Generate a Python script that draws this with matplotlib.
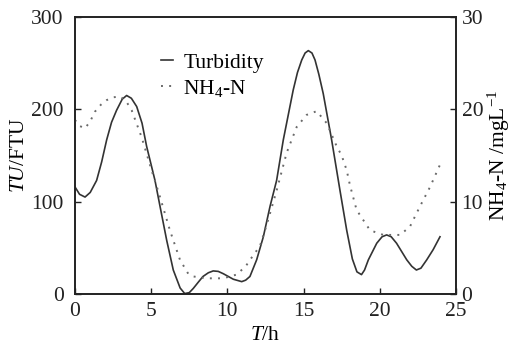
import matplotlib
matplotlib.use("Agg")
import matplotlib.pyplot as plt

# time (h) and turbidity (FTU)
turb_t = [0, 0.3, 0.66, 1.0, 1.42, 1.75, 2.08, 2.4, 2.73, 3.1, 3.39, 3.7, 4.05,
          4.4, 4.7, 5.25, 5.58, 6.02, 6.45, 6.9, 7.2, 7.5, 7.76, 8.1, 8.4,
          8.75, 9.07, 9.4, 9.73, 10.39, 10.94, 11.2, 11.48, 11.92, 12.36, 12.8,
          13.23, 13.67, 14.32, 14.6, 14.88, 15.1, 15.31, 15.55, 15.75, 16.0,
          16.29, 16.84, 17.39, 17.83, 18.2, 18.5, 18.8, 19.0, 19.25, 19.8,
          20.15, 20.45, 20.75, 21.1, 21.77, 22.1, 22.4, 22.7, 23.08, 23.5, 23.95]
turb = [116, 108, 105, 110, 123, 143, 167, 186, 199, 211, 215, 212, 203,
        185, 160, 123, 95, 58, 26, 6.5, 0.5, 1.5, 6, 13, 19,
        23, 25, 24.5, 22, 16, 13.4, 15, 19, 37, 62, 95,
        123, 167, 221, 240, 253.5, 261, 263.6, 261, 253.5, 238,
        217, 167, 112, 69, 38, 24, 21, 26, 37, 55,
        62, 64, 62, 55, 37, 30, 26, 28, 37, 48, 62]

# NH4-N (mg/L)
nh_t = [0, 0.3, 0.66, 1.0, 1.31, 1.7, 2.08, 2.5, 2.95, 3.35, 3.72, 4.37, 5.03,
        5.58, 6.23, 6.89, 7.43, 7.76, 8.64, 9.73, 10.6, 11.2, 11.7, 12.14,
        12.58, 13.23, 13.89, 14.55, 15.2, 15.86, 16.52, 17.17, 17.5, 17.83,
        18.04, 18.48, 19.36, 20.23, 21.33, 21.98, 22.64, 23.3, 23.95]
nh = [18.85, 18.2, 17.95, 18.7, 19.75, 20.5, 21.0, 21.3, 21.4, 20.9, 19.9,
      17.0, 13.4, 10.5, 6.9, 3.7, 2.2, 1.9, 1.7, 1.7, 2.1, 3.0, 4.2, 5.2,
      7.5, 11.2, 15.3, 18.1, 19.4, 19.8, 18.5, 16.0, 15.0, 13.4, 11.8, 9.1,
      6.9, 6.4, 6.4, 7.3, 9.5, 11.6, 14]

plt.rcParams['font.family'] = ['Liberation Serif', 'DejaVu Serif']
plt.rcParams['mathtext.fontset'] = 'custom'
plt.rcParams['mathtext.rm'] = 'Liberation Serif'
plt.rcParams['mathtext.it'] = 'Liberation Serif:italic'
plt.rcParams['font.size'] = 15.5

fig = plt.figure(figsize=(5.16, 3.45), dpi=100)
ax = fig.add_axes([0.1453, 0.1478, 0.7384, 0.8029])
ax2 = ax.twinx()

l1, = ax.plot(turb_t, turb, color='#333333', linewidth=1.2, label='Turbidity')
l2, = ax2.plot(nh_t, nh, color='#6a6a6a', linewidth=1.4, linestyle=(0, (1, 3.2)),
               label='NH$_4$-N')

ax.set_xlim(0, 25)
ax.set_ylim(0, 300)
ax2.set_ylim(0, 30)
ax.set_xticks([0, 5, 10, 15, 20, 25])
ax.set_yticks([0, 100, 200, 300])
ax2.set_yticks([0, 10, 20, 30])

for a in (ax, ax2):
    a.tick_params(direction='in', length=4, width=1.0, colors='#222222')
    for s in a.spines.values():
        s.set_linewidth(1.2)
        s.set_color('#222222')
ax.tick_params(axis='y', pad=8)
ax.tick_params(axis='x', pad=6)
ax2.tick_params(axis='y', pad=4)

ax.set_xlabel('$T$/h', labelpad=3)
ax.set_ylabel('$TU$/FTU', labelpad=2)
ax2.set_ylabel('NH$_4$-N /mgL$^{-1}$', labelpad=2)

ax.legend([l1, l2], ['Turbidity', 'NH$_4$-N'], loc='upper left',
          bbox_to_anchor=(0.225, 0.872), frameon=False, handlelength=0.55,
          handletextpad=0.5, labelspacing=0.25, borderpad=0, borderaxespad=0,
          fontsize=15.5)

fig.savefig('out.png', dpi=100)
